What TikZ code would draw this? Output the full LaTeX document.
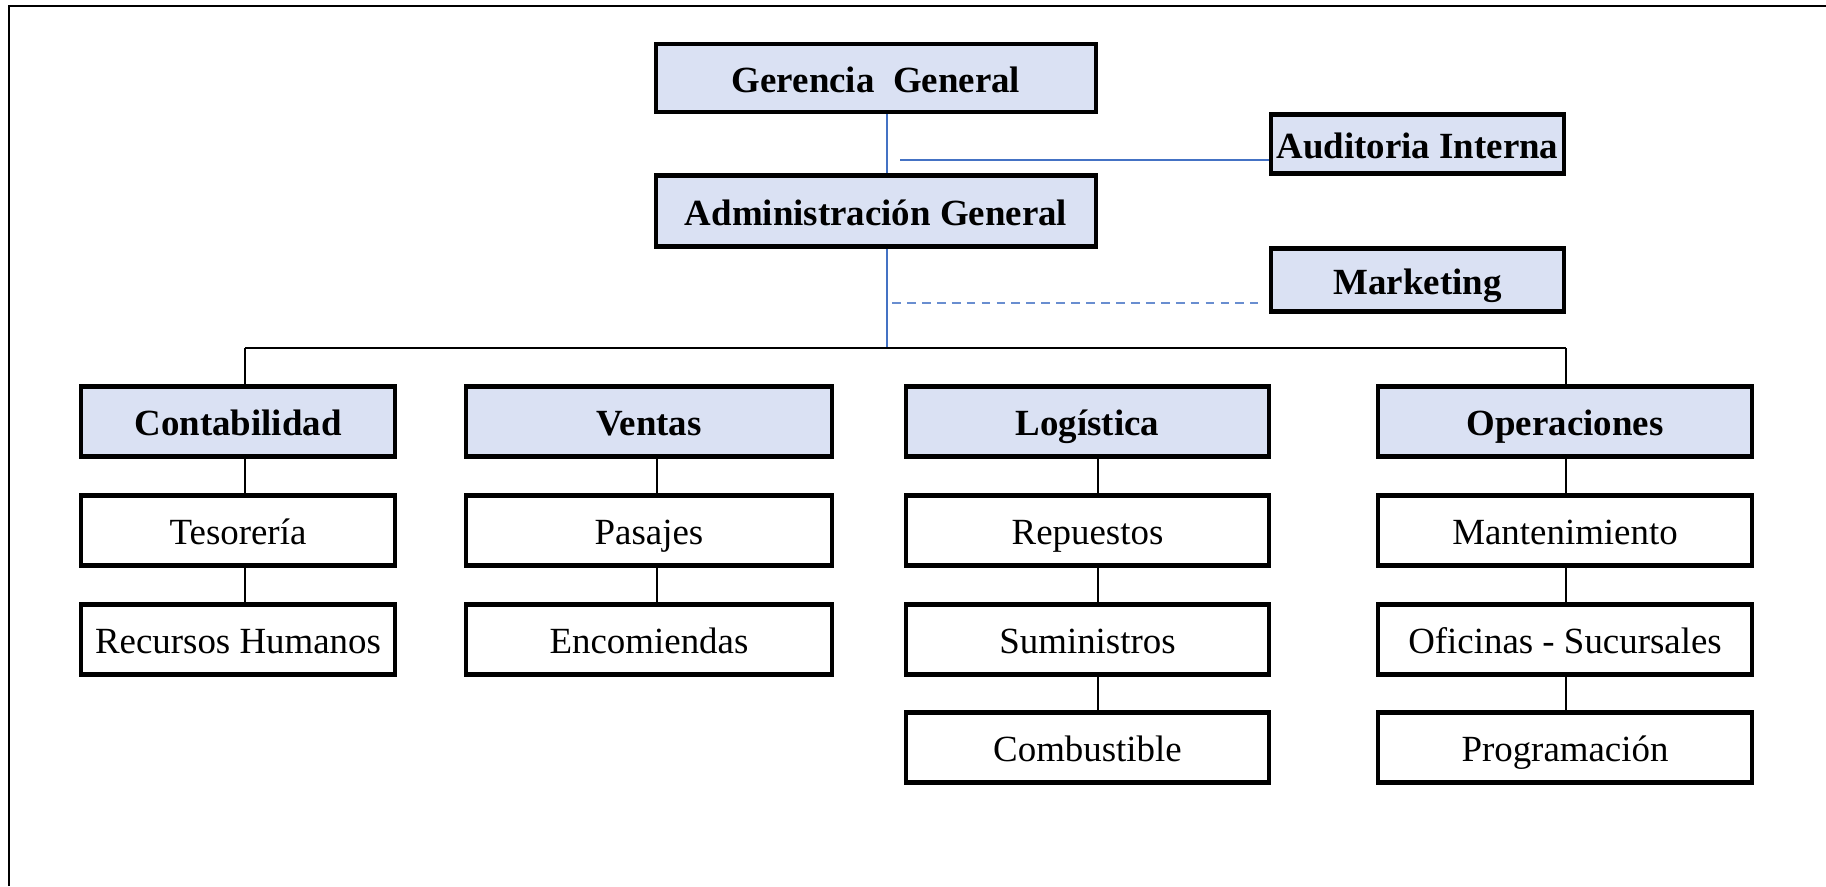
\documentclass[tikz,border=0pt]{standalone}
\usepackage{fontspec}
\setmainfont{Liberation Serif}
\usetikzlibrary{calc}
\definecolor{boxblue}{RGB}{218,225,243}
\definecolor{lineblue}{RGB}{68,114,196}
\begin{document}
\begin{tikzpicture}[x=0.02cm,y=-0.02cm,
  basebox/.style={draw=black, line width=2.4pt, inner sep=0pt, align=center,
    text height=20pt, text depth=4pt,
    font=\fontsize{21}{25}\selectfont},
  headbox/.style={basebox, fill=boxblue, font=\fontsize{21}{25}\selectfont\bfseries},
  subbox/.style={basebox, fill=white},
  conn/.style={draw=black, line width=1.3pt},
  blueline/.style={draw=lineblue, line width=1.2pt},
  bluedash/.style={draw=lineblue!80, line width=1.1pt, dash pattern=on 5pt off 3.5pt}]
\useasboundingbox (0,0) rectangle (1826,886);
% outer frame
\draw[line width=1.7pt] (9,886) -- (9,6) -- (1826,6);

% top level
\node[headbox, minimum width=8.8cm, minimum height=1.36cm] (ger) at (876,78) {Gerencia\ \ General};
\node[headbox, minimum width=8.8cm, minimum height=1.42cm] (adm) at (876,211) {Administración General};
\node[headbox, minimum width=5.86cm, minimum height=1.18cm] (aud) at (1417.5,144) {Auditoria Interna};
\node[headbox, minimum width=5.86cm, minimum height=1.26cm] (mkt) at (1417.5,280) {Marketing};

% columns
\node[headbox, minimum width=6.28cm, minimum height=1.40cm] (cont) at (238,421.5) {Contabilidad};
\node[subbox, minimum width=6.28cm, minimum height=1.40cm] (teso) at (238,530.5) {Tesorería};
\node[subbox, minimum width=6.28cm, minimum height=1.40cm] (rrhh) at (238,639.5) {Recursos Humanos};

\node[headbox, minimum width=7.32cm, minimum height=1.40cm] (vent) at (649,421.5) {Ventas};
\node[subbox, minimum width=7.32cm, minimum height=1.40cm] (pas) at (649,530.5) {Pasajes};
\node[subbox, minimum width=7.32cm, minimum height=1.40cm] (enc) at (649,639.5) {Encomiendas};

\node[headbox, minimum width=7.26cm, minimum height=1.40cm] (log) at (1087.5,421.5) {Logística};
\node[subbox, minimum width=7.26cm, minimum height=1.40cm] (rep) at (1087.5,530.5) {Repuestos};
\node[subbox, minimum width=7.26cm, minimum height=1.40cm] (sum) at (1087.5,639.5) {Suministros};
\node[subbox, minimum width=7.26cm, minimum height=1.40cm] (comb) at (1087.5,747.5) {Combustible};

\node[headbox, minimum width=7.48cm, minimum height=1.40cm] (ope) at (1565,421.5) {Operaciones};
\node[subbox, minimum width=7.48cm, minimum height=1.40cm] (mant) at (1565,530.5) {Mantenimiento};
\node[subbox, minimum width=7.48cm, minimum height=1.40cm] (ofi) at (1565,639.5) {Oficinas - Sucursales};
\node[subbox, minimum width=7.48cm, minimum height=1.40cm] (prog) at (1565,747.5) {Programación};

% spine coordinates
\coordinate (bsp) at (887,0);
\coordinate (bar) at (0,348);
\coordinate (s1) at (245,0);
\coordinate (s2) at (657,0);
\coordinate (s3) at (1098,0);
\coordinate (s4) at (1566,0);
\coordinate (audl) at (900,160);
\coordinate (mkl) at (892,303);
\coordinate (mkr) at (1258,303);

% blue connectors
\draw[blueline] (ger.south -| bsp) -- (adm.north -| bsp);
\draw[blueline] (adm.south -| bsp) -- (bar -| bsp);
\draw[blueline] (audl) -- (audl -| aud.west);
\draw[bluedash] (mkl) -- (mkr);

% black connectors
\draw[conn] (bar -| s1) -- (bar -| s4);
\draw[conn] (bar -| s1) -- (cont.north -| s1);
\draw[conn] (bar -| s4) -- (ope.north -| s4);
\draw[conn] (cont.south -| s1) -- (teso.north -| s1);
\draw[conn] (teso.south -| s1) -- (rrhh.north -| s1);
\draw[conn] (vent.south -| s2) -- (pas.north -| s2);
\draw[conn] (pas.south -| s2) -- (enc.north -| s2);
\draw[conn] (log.south -| s3) -- (rep.north -| s3);
\draw[conn] (rep.south -| s3) -- (sum.north -| s3);
\draw[conn] (sum.south -| s3) -- (comb.north -| s3);
\draw[conn] (ope.south -| s4) -- (mant.north -| s4);
\draw[conn] (mant.south -| s4) -- (ofi.north -| s4);
\draw[conn] (ofi.south -| s4) -- (prog.north -| s4);
\end{tikzpicture}
\end{document}
